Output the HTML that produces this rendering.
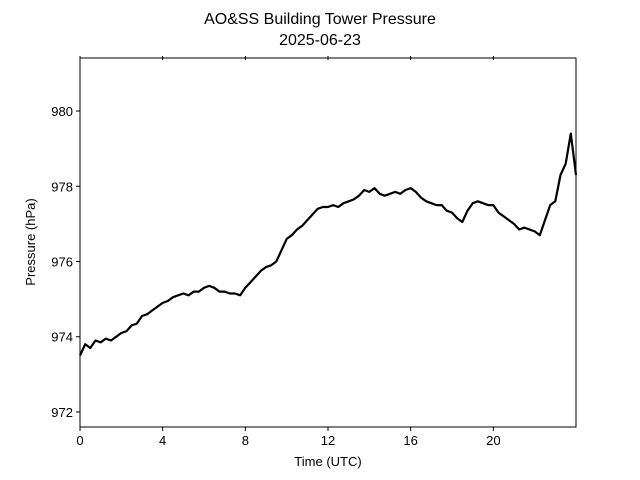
<!DOCTYPE html>
<html><head><meta charset="utf-8"><style>
body{margin:0;background:#fff;}
svg{display:block;font-family:"Liberation Sans","DejaVu Sans",sans-serif;}
</style></head><body>
<svg id="chart" width="640" height="480">
<text x="320" y="24" text-anchor="middle" font-size="16">AO&amp;SS Building Tower Pressure</text>
<text x="320" y="45" text-anchor="middle" font-size="16">2025-06-23</text>
<g id="plot"></g>
<text x="328" y="466" text-anchor="middle" font-size="13">Time (UTC)</text>
<text transform="translate(35,242) rotate(-90)" text-anchor="middle" font-size="13">Pressure (hPa)</text>
</svg>
<script>
const xTicks=[0,4,8,12,16,20];
const yTicks=[972,974,976,978,980];
const times=[];
for(let i=0;i<=96;i++)times.push(i*0.25);
const pressures=[
973.5,973.8,973.7,973.9,
973.85,973.95,973.9,974.0,
974.1,974.15,974.3,974.35,
974.55,974.6,974.7,974.8,
974.9,974.95,975.05,975.1,
975.15,975.1,975.2,975.2,
975.3,975.35,975.3,975.2,
975.2,975.15,975.15,975.1,
975.3,975.45,975.6,975.75,
975.85,975.9,976.0,976.3,
976.6,976.7,976.85,976.95,
977.1,977.25,977.4,977.45,
977.45,977.5,977.45,977.55,
977.6,977.65,977.75,977.9,
977.85,977.95,977.8,977.75,
977.8,977.85,977.8,977.9,
977.95,977.85,977.7,977.6,
977.55,977.5,977.5,977.35,
977.3,977.15,977.05,977.35,
977.55,977.6,977.55,977.5,
977.5,977.3,977.2,977.1,
977.0,976.85,976.9,976.85,
976.8,976.7,977.1,977.5,
977.6,978.3,978.6,979.4,
978.3];
const X0=80,X1=576,Y0=58,Y1=427,xmin=0,xmax=24,ymin=971.6,ymax=981.41;
const sx=v=>X0+(v-xmin)/(xmax-xmin)*(X1-X0);
const sy=v=>Y1-(v-ymin)/(ymax-ymin)*(Y1-Y0);
const NS='http://www.w3.org/2000/svg';
const plot=document.getElementById('plot');
function mk(t,a){const e=document.createElementNS(NS,t);for(const k in a)e.setAttribute(k,a[k]);plot.appendChild(e);return e;}
let d='';
const n=Math.min(times.length,pressures.length);
for(let i=0;i<n;i++)d+=(i?'L':'M')+sx(times[i]).toFixed(1)+','+sy(pressures[i]).toFixed(1);
const line=mk('path',{d:d,fill:'none',stroke:'#000','stroke-width':2.2,'stroke-linejoin':'round'});


const frame=mk('rect',{x:X0,y:Y0,width:X1-X0,height:Y1-Y0,fill:'none',stroke:'#000','stroke-width':1});


xTicks.forEach(t=>{
 const x=sx(t);
 const tk=mk('line',{x1:x,x2:x,y1:Y1,y2:Y1+4,stroke:'#000'});
 
 
 const tt=mk('line',{x1:x,x2:x,y1:Y0-2,y2:Y0+2,stroke:'#000'});
 
 
 const lb=mk('text',{x:x,y:Y1+18,'text-anchor':'middle','font-size':13});
 lb.textContent=t;
 
 
});
yTicks.forEach(t=>{
 const y=sy(t);
 const tk=mk('line',{x1:X0-4,x2:X0,y1:y,y2:y,stroke:'#000'});
 
 
 const lb=mk('text',{x:X0-7,y:y+5,'text-anchor':'end','font-size':13});
 lb.textContent=t;
 
 
});
</script>
</body></html>
